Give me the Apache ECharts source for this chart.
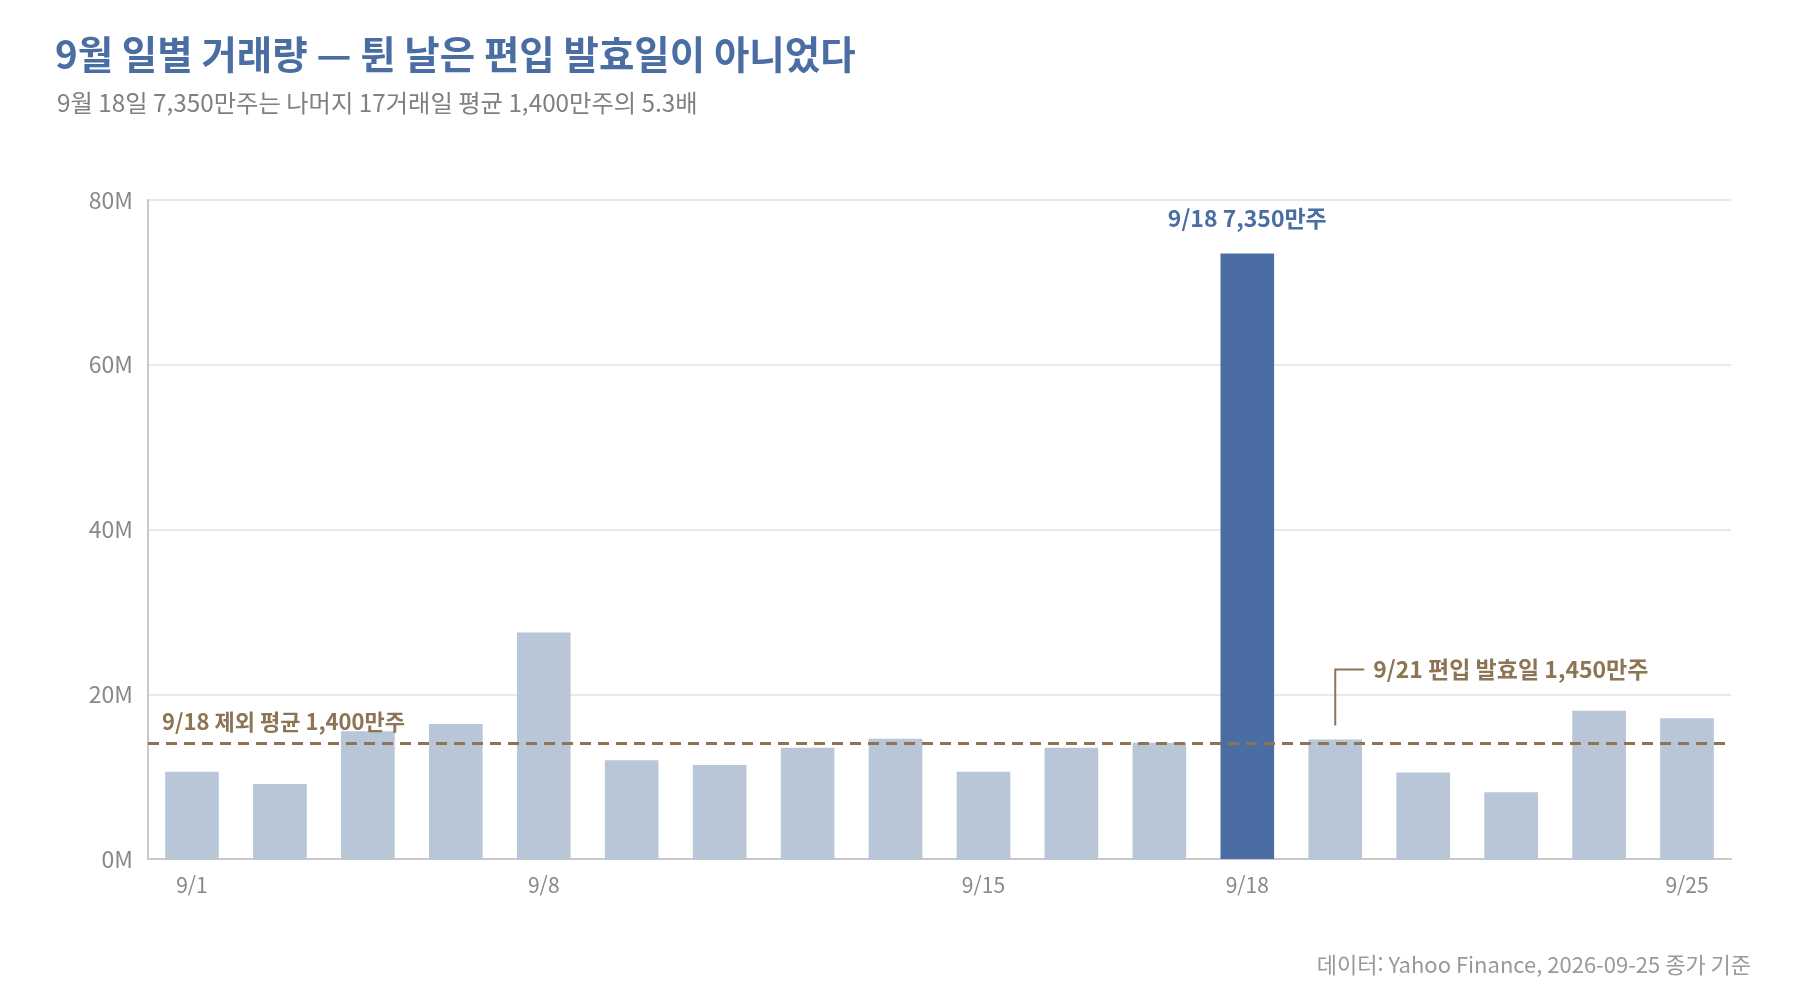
<!DOCTYPE html>
<html lang="ko">
<head>
<meta charset="utf-8">
<title>9월 일별 거래량</title>
<script src="https://cdn.jsdelivr.net/npm/echarts@6/dist/echarts.min.js"></script>
<style>
  html, body { margin: 0; padding: 0; background: #fff; }
  #chart { width: 1800px; height: 1000px; }
</style>
</head>
<body>
<div id="chart"></div>
<script>
const DAYS = ["9/1", "9/2", "9/3", "9/4", "9/8", "9/9", "9/10", "9/11", "9/14", "9/15",
  "9/16", "9/17", "9/18", "9/21", "9/22", "9/23", "9/24", "9/25"];
const VOLUME = [10.6, 9.1, 15.5, 16.4, 27.5, 12.0, 11.4, 13.5, 14.6, 10.6,
  13.5, 14.1, 73.5, 14.5, 10.5, 8.1, 18.0, 17.1].map(v => v * 1e6);
const SHOWN_TICKS = ["9/1", "9/8", "9/15", "9/18", "9/25"];
const SPIKE_DAY = "9/18";
const EFFECTIVE_DAY = "9/21";
const AVG_EX_SPIKE = 14e6;

const BLUE = "#4a6ea3";
const LIGHT = "#b8c6d8";
const BROWN = "#8c7455";
const FONT = "'Noto Sans CJK KR', 'Noto Sans', sans-serif";

const chart = echarts.init(document.getElementById("chart"));

chart.setOption({
  animation: false,
  textStyle: { fontFamily: FONT },
  title: [
    {
      text: "9월 일별 거래량 — 튄 날은 편입 발효일이 아니었다",
      left: 50, top: 30,
      textStyle: { fontSize: 38.5, fontWeight: "bold", color: BLUE, fontFamily: FONT }
    },
    {
      text: "9월 18일 7,350만주는 나머지 17거래일 평균 1,400만주의 5.3배",
      left: 52, top: 86,
      textStyle: { fontSize: 24.3, fontWeight: "normal", color: "#808080", fontFamily: FONT }
    },
    {
      text: "데이터: Yahoo Finance, 2026-09-25 종가 기준",
      right: 44, top: 949,
      textStyle: { fontSize: 22, fontWeight: "normal", color: "#999", fontFamily: FONT }
    }
  ],
  grid: { left: 148, right: 69, top: 200, bottom: 141 },
  xAxis: {
    type: "category",
    data: DAYS,
    axisLine: { show: true, lineStyle: { color: "#c8c8c8", width: 2 } },
    axisTick: { show: false },
    axisLabel: {
      interval: (i, v) => SHOWN_TICKS.includes(v),
      color: "#888", fontSize: 21, margin: 16, fontFamily: FONT
    }
  },
  yAxis: {
    type: "value",
    min: 0, max: 80e6, interval: 20e6,
    axisLine: { show: true, lineStyle: { color: "#c8c8c8", width: 2 } },
    axisTick: { show: false },
    splitLine: { lineStyle: { color: "#e2e2e2", width: 1.5 } },
    axisLabel: {
      formatter: v => (v / 1e6) + "M",
      color: "#888", fontSize: 23, margin: 15, fontFamily: FONT
    }
  },
  series: [{
    type: "bar",
    barCategoryGap: "39%",
    data: VOLUME.map((v, i) => {
      const spike = DAYS[i] === SPIKE_DAY;
      return {
        value: v,
        itemStyle: { color: spike ? BLUE : LIGHT },
        label: spike ? {
          show: true, position: "top", distance: 24,
          formatter: SPIKE_DAY + " " + (v / 1e4).toLocaleString("en-US") + "만주",
          color: BLUE, fontSize: 23, fontWeight: "bold", fontFamily: FONT
        } : { show: false }
      };
    }),
    markLine: {
      silent: true,
      symbol: "none",
      lineStyle: { color: BROWN, type: [11, 7], width: 3 },
      label: {
        position: "insideStartTop",
        distance: [14, 11],
        formatter: "9/18 제외 평균 " + (AVG_EX_SPIKE / 1e4).toLocaleString("en-US") + "만주",
        color: BROWN, fontSize: 22, fontWeight: "bold", fontFamily: FONT
      },
      data: [{ yAxis: AVG_EX_SPIKE }]
    }
  }]
});

// leader line + note for the index effective date, placed from data coordinates
function placeNote() {
  const idx = DAYS.indexOf(EFFECTIVE_DAY);
  const v = VOLUME[idx];
  const base = chart.convertToPixel({ seriesIndex: 0 }, [idx, v]);
  const bottom = base[1] - 14;
  const top = chart.convertToPixel({ seriesIndex: 0 }, [idx, 23e6])[1];
  chart.setOption({
    graphic: [
      {
        type: "polyline",
        shape: { points: [[base[0], bottom], [base[0], top], [base[0] + 29, top]] },
        style: { stroke: BROWN, lineWidth: 2, fill: null },
        silent: true
      },
      {
        type: "text",
        x: base[0] + 38, y: top,
        style: {
          text: EFFECTIVE_DAY + " 편입 발효일 " + (v / 1e4).toLocaleString("en-US") + "만주",
          fill: BROWN, font: "bold 23px " + FONT,
          textVerticalAlign: "middle", verticalAlign: "middle"
        },
        silent: true
      }
    ]
  });
}
placeNote();
</script>
</body>
</html>
